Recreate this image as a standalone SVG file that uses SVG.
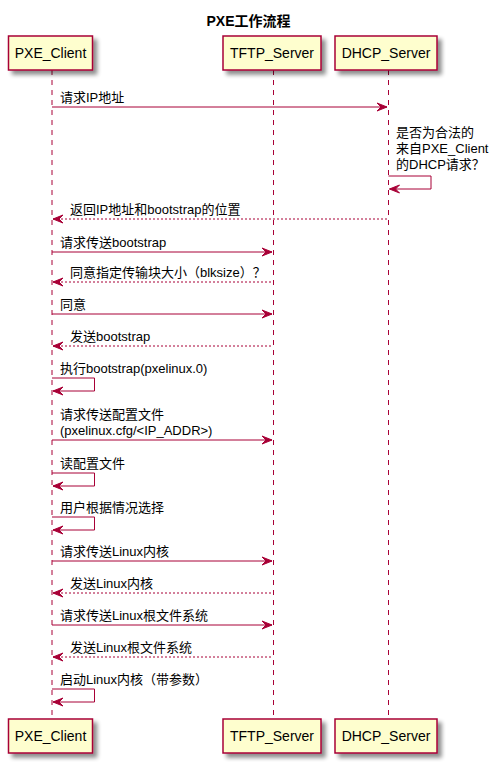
<svg xmlns="http://www.w3.org/2000/svg" width="497" height="763" viewBox="0 0 497 763">
<style>
text{font-family:"Liberation Sans","Noto Sans CJK SC",sans-serif;fill:#000000}
.title{font-size:14px;font-weight:bold}
.pname{font-size:14px;text-anchor:middle}
.msg{font-size:13px}
.box{fill:#FEFECE;stroke:#A80036;stroke-width:1.5}
.life{stroke:#A80036;stroke-width:1;stroke-dasharray:5,5;fill:none}
.ln{stroke:#A80036;stroke-width:1;fill:none}
.dash{stroke:#A80036;stroke-width:1;stroke-dasharray:2,2;fill:none}
.head{fill:#A80036;stroke:#A80036;stroke-width:1}
</style>
<defs>
<filter id="sh" x="-20%" y="-20%" width="150%" height="160%">
<feGaussianBlur in="SourceAlpha" stdDeviation="2" result="b"/>
<feOffset in="b" dx="4" dy="4" result="o"/>
<feComponentTransfer in="o" result="o2"><feFuncA type="linear" slope="0.45"/></feComponentTransfer>
<feMerge><feMergeNode in="o2"/><feMergeNode in="SourceGraphic"/></feMerge>
</filter>
</defs>
<text class="title" x="248.5" y="26" text-anchor="middle">PXE工作流程</text>

<g id="lifelines">
<line class="life" x1="52" y1="70" x2="52" y2="719"/>
<line class="life" x1="273.5" y1="70" x2="273.5" y2="719"/>
<line class="life" x1="388.5" y1="70" x2="388.5" y2="719"/>
</g>

<g id="PXE_Client">
<rect class="box" filter="url(#sh)" x="8.5" y="36" width="84" height="34"/>
<text class="pname" x="50.5" y="58">PXE_Client</text>
<rect class="box" filter="url(#sh)" x="8.5" y="719" width="84" height="34"/>
<text class="pname" x="50.5" y="741">PXE_Client</text>
</g>
<g id="TFTP_Server">
<rect class="box" filter="url(#sh)" x="223" y="36" width="98" height="34"/>
<text class="pname" x="272" y="58">TFTP_Server</text>
<rect class="box" filter="url(#sh)" x="223" y="719" width="98" height="34"/>
<text class="pname" x="272" y="741">TFTP_Server</text>
</g>
<g id="DHCP_Server">
<rect class="box" filter="url(#sh)" x="335" y="36" width="102" height="34"/>
<text class="pname" x="386" y="58">DHCP_Server</text>
<rect class="box" filter="url(#sh)" x="335" y="719" width="102" height="34"/>
<text class="pname" x="386" y="741">DHCP_Server</text>
</g>

<g id="connectors">
<!-- m1 -->
<line class="ln" x1="52" y1="107" x2="387" y2="107"/>
<polygon class="head" points="377,103 387,107 377,111 381,107"/>
<text class="msg" x="60" y="102">请求IP地址</text>
<!-- m2 self DHCP -->
<polyline class="ln" points="388.5,176 431,176 431,189 389.5,189"/>
<polygon class="head" points="399.5,185 389.5,189 399.5,193 395.5,189"/>
<text class="msg" x="396" y="137">是否为合法的</text>
<text class="msg" x="396" y="153">来自PXE_Client</text>
<text class="msg" x="396" y="169">的DHCP请求？</text>
<!-- m3 -->
<line class="dash" x1="53" y1="219" x2="388" y2="219"/>
<polygon class="head" points="63,215 53,219 63,223 59,219"/>
<text class="msg" x="70" y="214">返回IP地址和bootstrap的位置</text>
<!-- m4 -->
<line class="ln" x1="52" y1="252" x2="272" y2="252"/>
<polygon class="head" points="262,248 272,252 262,256 266,252"/>
<text class="msg" x="60" y="247">请求传送bootstrap</text>
<!-- m5 -->
<line class="dash" x1="53" y1="282" x2="273" y2="282"/>
<polygon class="head" points="63,278 53,282 63,286 59,282"/>
<text class="msg" x="70" y="277">同意指定传输块大小（blksize）？</text>
<!-- m6 -->
<line class="ln" x1="52" y1="314" x2="272" y2="314"/>
<polygon class="head" points="262,310 272,314 262,318 266,314"/>
<text class="msg" x="60" y="309">同意</text>
<!-- m7 -->
<line class="dash" x1="53" y1="346" x2="273" y2="346"/>
<polygon class="head" points="63,342 53,346 63,350 59,346"/>
<text class="msg" x="70" y="341">发送bootstrap</text>
<!-- m8 self -->
<polyline class="ln" points="52,378 94.5,378 94.5,391 53,391"/>
<polygon class="head" points="63,387 53,391 63,395 59,391"/>
<text class="msg" x="60" y="373">执行bootstrap(pxelinux.0)</text>
<!-- m9 -->
<line class="ln" x1="52" y1="440" x2="272" y2="440"/>
<polygon class="head" points="262,436 272,440 262,444 266,440"/>
<text class="msg" x="60" y="419">请求传送配置文件</text>
<text class="msg" x="60" y="435">(pxelinux.cfg/&lt;IP_ADDR&gt;)</text>
<!-- m10 self -->
<polyline class="ln" points="52,473 94.5,473 94.5,486 53,486"/>
<polygon class="head" points="63,482 53,486 63,490 59,486"/>
<text class="msg" x="60" y="468">读配置文件</text>
<!-- m11 self -->
<polyline class="ln" points="52,517 94.5,517 94.5,530 53,530"/>
<polygon class="head" points="63,526 53,530 63,534 59,530"/>
<text class="msg" x="60" y="512">用户根据情况选择</text>
<!-- m12 -->
<line class="ln" x1="52" y1="561" x2="272" y2="561"/>
<polygon class="head" points="262,557 272,561 262,565 266,561"/>
<text class="msg" x="60" y="556">请求传送Linux内核</text>
<!-- m13 -->
<line class="dash" x1="53" y1="593" x2="273" y2="593"/>
<polygon class="head" points="63,589 53,593 63,597 59,593"/>
<text class="msg" x="70" y="588">发送Linux内核</text>
<!-- m14 -->
<line class="ln" x1="52" y1="625" x2="272" y2="625"/>
<polygon class="head" points="262,621 272,625 262,629 266,625"/>
<text class="msg" x="60" y="620">请求传送Linux根文件系统</text>
<!-- m15 -->
<line class="dash" x1="53" y1="657" x2="273" y2="657"/>
<polygon class="head" points="63,653 53,657 63,661 59,657"/>
<text class="msg" x="70" y="652">发送Linux根文件系统</text>
<!-- m16 self -->
<polyline class="ln" points="52,689 94.5,689 94.5,702 53,702"/>
<polygon class="head" points="63,698 53,702 63,706 59,702"/>
<text class="msg" x="60" y="684">启动Linux内核（带参数）</text>
</g>
</svg>
